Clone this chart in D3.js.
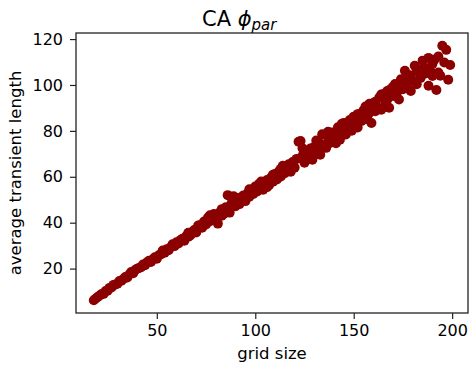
<!DOCTYPE html>
<html>
<head>
<meta charset="utf-8">
<script src="https://cdn.jsdelivr.net/npm/d3@7"></script>
<style>
  html, body { margin: 0; padding: 0; background: #fff; }
  svg { display: block; font-family: "DejaVu Sans", sans-serif; }
</style>
</head>
<body>
<svg id="chart" width="472" height="366"></svg>
<script>
// grid size and the average transient length measured for it
const gridSize = [
  18,19,20,21,22,23,24,25,26,27,28,29,30,31,32,33,34,35,36,37,38,39,40,41,42,43,44,45,46,47,
  48,49,50,51,52,53,54,55,56,57,58,59,60,61,62,63,64,65,66,67,68,69,70,71,72,73,74,75,76,77,
  78,79,80,81,82,83,84,85,86,87,88,89,90,91,92,93,94,95,96,97,98,99,100,101,102,103,104,105,106,107,
  108,109,110,111,112,113,114,115,116,117,118,119,120,121,122,123,124,125,126,127,128,129,130,131,132,133,134,135,136,137,
  138,139,140,141,142,143,144,145,146,147,148,149,150,151,152,153,154,155,156,157,158,159,160,161,162,163,164,165,166,167,
  168,169,170,171,172,173,174,175,176,177,178,179,180,181,182,183,184,185,186,187,188,189,190,191,192,193,194,195,196,197,
  198,199,
  66,71,77,83,92,97,103,106,109,113,118,124,127,131,133,137,141,144,148,152,155,158,161,164,167,170,173,176,179,182,
  185,188,190,193
];
const transientLength = [
  6.2,7.0,7.6,8.3,8.9,9.0,10.2,10.4,11.6,11.8,12.9,13.1,13.4,14.6,14.7,15.5,16.3,16.1,17.4,18.5,18.0,19.4,19.9,20.3,20.6,21.8,21.5,22.7,23.4,22.9,
  24.1,24.9,24.3,25.8,26.2,27.9,26.9,28.4,28.0,29.3,30.6,29.8,31.5,30.9,32.4,33.0,32.1,34.2,35.6,34.4,35.9,36.8,35.7,37.6,38.9,37.8,40.5,39.2,42.3,40.6,
  41.4,43.8,42.2,39.6,44.5,45.9,43.8,46.7,52.0,44.4,48.6,51.5,47.2,49.8,48.1,50.6,51.9,49.4,52.7,51.3,54.1,52.5,55.8,53.6,56.9,55.2,54.4,57.8,58.6,56.3,
  59.7,57.9,61.2,58.8,62.4,60.1,64.8,61.6,63.3,65.5,62.2,66.4,64.0,67.8,75.3,75.6,69.2,66.1,70.5,68.0,72.3,67.4,73.1,70.2,75.4,71.8,78.5,73.9,72.6,76.8,
  74.7,79.3,75.5,77.9,81.6,76.2,79.8,83.4,78.4,81.9,84.7,80.1,86.2,83.0,81.5,87.4,84.3,89.0,90.6,85.1,87.9,83.4,92.1,88.6,90.3,94.5,89.2,96.0,91.7,93.6,
  90.1,98.3,95.2,100.4,96.8,93.7,102.5,98.1,106.2,99.6,104.3,97.4,101.8,108.4,100.3,105.7,103.1,110.6,104.9,107.3,99.7,106.0,109.2,111.0,97.8,105.4,104.0,117.1,109.8,115.3,
  102.3,108.7,
  33.9,38.8,43.2,43.0,50.9,54.6,57.9,55.5,60.9,63.5,64.9,72.4,71.3,75.8,69.6,79.6,74.6,83.1,82.0,87.3,86.0,91.8,92.7,95.8,97.4,99.2,100.6,101.4,103.5,106.2,
  107.0,111.8,103.9,112.4
];
const xTicks = [50, 100, 150, 200];
const yTicks = [20, 40, 60, 80, 100, 120];

const points = gridSize.map((g, i) => ({ g, t: transientLength[i] }));

const plot = { left: 76, right: 468, top: 33, bottom: 313 };

// pad the data range by 5% on each side
function padded(ext) {
  const p = (ext[1] - ext[0]) * 0.05;
  return [ext[0] - p, ext[1] + p];
}

const x = d3.scaleLinear().domain(padded(d3.extent(gridSize))).range([plot.left, plot.right]);
const y = d3.scaleLinear().domain(padded(d3.extent(transientLength))).range([plot.bottom, plot.top]);

const svg = d3.select("#chart");

// markers
svg.append("g")
  .selectAll("circle")
  .data(points)
  .join("circle")
  .attr("cx", d => x(d.g))
  .attr("cy", d => y(d.t))
  .attr("r", 5)
  .attr("fill", "#8b0000");

// frame
svg.append("rect")
  .attr("x", plot.left).attr("y", plot.top)
  .attr("width", plot.right - plot.left).attr("height", plot.bottom - plot.top)
  .attr("fill", "none").attr("stroke", "#222").attr("stroke-width", 1.3);

const tickFont = 16;

const xAxis = svg.append("g")
  .attr("transform", `translate(0,${plot.bottom})`)
  .call(d3.axisBottom(x).tickValues(xTicks).tickSize(6).tickPadding(6).tickFormat(d3.format("d")));
const yAxis = svg.append("g")
  .attr("transform", `translate(${plot.left},0)`)
  .call(d3.axisLeft(y).tickValues(yTicks).tickSize(6).tickPadding(7).tickFormat(d3.format("d")));

[xAxis, yAxis].forEach(a => {
  a.select(".domain").remove();
  a.selectAll(".tick line").attr("stroke", "#222").attr("stroke-width", 1.2);
  a.selectAll(".tick text")
    .attr("fill", "#000")
    .style("font-family", "'DejaVu Sans', sans-serif")
    .style("font-size", tickFont + "px");
});

// axis labels
svg.append("text")
  .attr("x", (plot.left + plot.right) / 2)
  .attr("y", 359)
  .attr("text-anchor", "middle")
  .style("font-size", "16.5px")
  .text("grid size");

svg.append("text")
  .attr("transform", `translate(21,${(plot.top + plot.bottom) / 2}) rotate(-90)`)
  .attr("text-anchor", "middle")
  .style("font-size", "16.5px")
  .text("average transient length");

// title: CA φ_par
const title = svg.append("text")
  .attr("x", 202)
  .attr("y", 26)
  .attr("text-anchor", "start")
  .style("font-size", "21px");
title.append("tspan").text("CA ");
title.append("tspan").style("font-style", "italic").text("\u03D5");
title.append("tspan").style("font-style", "italic").style("font-size", "15px").attr("dy", 4).text("par");
</script>
</body>
</html>
